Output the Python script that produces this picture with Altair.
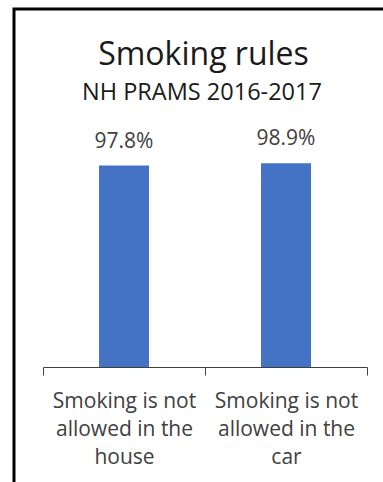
import altair as alt
import pandas as pd

# ---- data ----
categories = ["Smoking is not\nallowed in the\nhouse", "Smoking is not\nallowed in the\ncar"]
values = [97.8, 98.9]
title_text = ["Smoking rules"]
subtitle_text = ["NH PRAMS 2016-2017"]

FONT = "Open Sans"
TEXT_COLOR = "#404040"

df = pd.DataFrame({"category": categories, "value": values})

x_enc = alt.X(
    "category:N",
    sort=categories,
    scale=alt.Scale(paddingInner=0, paddingOuter=0),
    axis=alt.Axis(
        title=None,
        labelAngle=0,
        labelExpr="split(datum.label, '\\n')",
        labelFont=FONT,
        labelFontSize=21,
        labelColor=TEXT_COLOR,
        labelLineHeight=28,
        labelPadding=15,
        labelAlign="center",
        domainColor=TEXT_COLOR,
        tickColor=TEXT_COLOR,
        tickSize=8,
        tickBand="extent",
        grid=False,
    ),
)
y_enc = alt.Y("value:Q", scale=alt.Scale(domain=[0, 100]), axis=None)

bars = alt.Chart(df).mark_bar(color="#4472C4", width=alt.RelativeBandSize(50 / 162)).encode(
    x=x_enc, y=y_enc
)

labels = (
    alt.Chart(df)
    .transform_calculate(lbl="format(datum.value, '.1f') + '%'")
    .mark_text(font=FONT, fontSize=21, color=TEXT_COLOR, dy=-18, baseline="alphabetic")
    .encode(x=alt.X("category:N", sort=categories), y=alt.Y("value:Q"), text="lbl:N")
)

title = (
    alt.Chart(pd.DataFrame({"t": title_text}))
    .mark_text(font=FONT, fontSize=32, color="#1a1a1a", baseline="alphabetic", align="center")
    .encode(x=alt.value(160.5), y=alt.value(-96), text="t:N")
)
subtitle = (
    alt.Chart(pd.DataFrame({"t": subtitle_text}))
    .mark_text(font=FONT, fontSize=23.5, color="#1a1a1a", baseline="alphabetic", align="center")
    .encode(x=alt.value(159), y=alt.value(-61), text="t:N")
)

border = (
    alt.Chart(pd.DataFrame({"t": [0]}))
    .mark_rect(filled=False, stroke="black", strokeWidth=3)
    .encode(x=alt.value(-29), x2=alt.value(360), y=alt.value(-152), y2=alt.value(340))
)

chart = (
    alt.layer(border, bars, labels, title, subtitle)
    .properties(
        width=324,
        height=206,
        padding={"left": 43, "top": 161, "right": 16, "bottom": 115},
        autosize=alt.AutoSizeParams(type="none"),
        background="white",
    )
    .configure_view(stroke=None)
)

chart.save("out.html", embed_options={"renderer": "svg", "actions": False})
